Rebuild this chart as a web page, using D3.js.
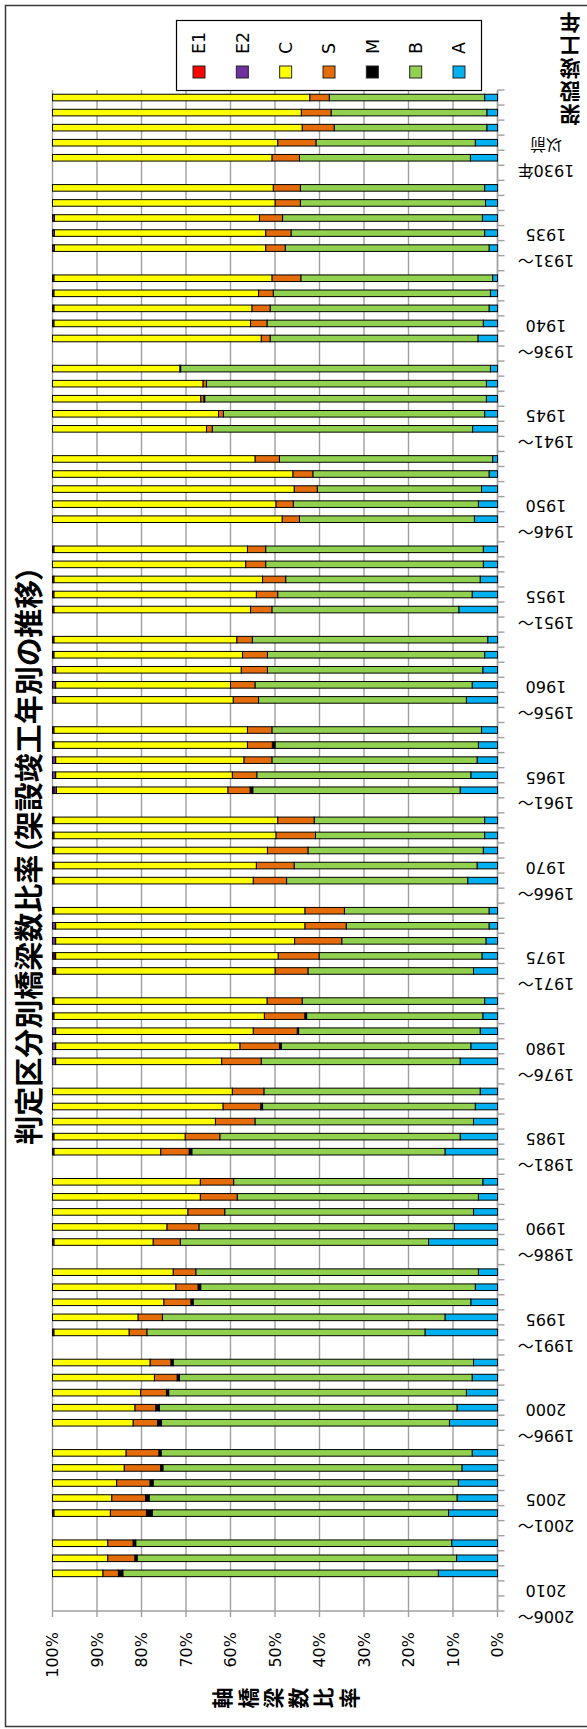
<!DOCTYPE html>
<html>
<head>
<meta charset="utf-8">
<script src="https://cdn.jsdelivr.net/npm/d3@7"></script>
<style>
  html, body { margin: 0; padding: 0; background: #fff; }
  svg { display: block; }
  text { font-family: "DejaVu Sans", "Noto Sans CJK JP", sans-serif; }
</style>
</head>
<body>
<div id="chart"></div>
<script>
// ---- data -------------------------------------------------------------
// construction-period groups (two-line labels)
const periodLabels = [
  ["1930年", "以前"], ["1931～", "1935"], ["1936～", "1940"], ["1941～", "1945"],
  ["1946～", "1950"], ["1951～", "1955"], ["1956～", "1960"], ["1961～", "1965"],
  ["1966～", "1970"], ["1971～", "1975"], ["1976～", "1980"], ["1981～", "1985"],
  ["1986～", "1990"], ["1991～", "1995"], ["1996～", "2000"], ["2001～", "2005"],
  ["2006～", "2010"]
];

// one bar per year, five per period
const years = d3.range(1926, 2011).map(String);

// share of bridges per judgement category (%), one entry per year
const seriesA = [
  2.9, 2.4, 2.4, 5.0, 6.1,   2.9, 2.7, 3.4, 2.9, 1.9,   1.1, 1.6, 1.9, 3.2, 4.4,
  1.6, 2.5, 2.5, 2.9, 5.6,   1.1, 1.9, 3.6, 4.3, 5.2,   3.2, 3.2, 3.9, 5.7, 8.7,
  2.2, 2.9, 3.3, 5.7, 7.0,   3.6, 4.3, 4.6, 6.0, 8.4,   2.9, 2.9, 3.2, 4.6, 6.7,
  1.9, 1.9, 2.6, 3.5, 5.4,   2.9, 3.3, 3.9, 6.0, 8.4,   3.9, 5.0, 5.4, 8.4, 11.8,
  3.3, 4.3, 5.4, 9.7, 15.5,  4.3, 5.0, 6.0, 11.8, 16.3, 5.4, 5.7, 7.0, 9.1, 10.8,
  5.7, 8.0, 8.8, 9.1, 11.0,  10.3, 9.2, 13.3, null, null
];
const seriesB = [
  34.9, 35.0, 34.3, 35.8, 38.4,  41.4, 41.6, 44.9, 43.5, 45.8,  43.1, 48.8, 49.2, 48.6, 46.7,
  69.6, 62.9, 63.3, 58.7, 58.5,  47.9, 39.6, 36.9, 41.6, 39.3,  48.9, 48.9, 43.7, 43.7, 42.0,
  52.9, 48.8, 48.4, 48.8, 46.7,  47.1, 45.7, 46.1, 48.1, 46.6,  38.3, 38.0, 39.4, 41.1, 40.7,
  32.5, 32.1, 32.4, 36.6, 37.2,  41.0, 39.6, 40.8, 42.6, 44.7,  48.6, 47.8, 49.1, 54.0, 56.9,
  56.0, 54.2, 55.9, 57.4, 55.8,  63.5, 61.7, 62.4, 63.5, 62.5,  67.5, 65.8, 66.9, 66.9, 64.7,
  69.9, 67.2, 68.6, 69.2, 66.6,  71.0, 71.8, 70.9, null, null
];
const seriesM = [
  0, 0, 0, 0, 0,   0, 0, 0, 0, 0,   0, 0, 0, 0, 0,
  0, 0, 0.2, 0, 0,   0, 0, 0, 0, 0,   0, 0, 0, 0, 0,
  0, 0, 0, 0, 0,   0, 0.6, 0, 0, 0.6,   0, 0, 0, 0, 0,
  0, 0, 0, 0, 0,   0, 0.4, 0.3, 0.4, 0,   0, 0.4, 0, 0, 0.6,
  0, 0, 0, 0, 0,   0, 0.6, 0.5, 0, 0,   0.5, 0.5, 0.5, 0.8, 0.9,
  0.5, 0.5, 0.7, 0.8, 1.3,   0.6, 0.5, 1.0, null, null
];
const seriesS = [
  4.4, 6.7, 7.2, 8.6, 6.2,   6.1, 5.7, 5.2, 5.7, 4.4,   6.5, 3.3, 4.1, 3.7, 2.0,
  0.2, 0.8, 0.7, 1.1, 1.3,   5.5, 4.5, 5.2, 3.9, 3.9,   4.1, 4.5, 5.2, 4.8, 4.8,
  3.5, 5.6, 5.9, 5.5, 5.7,   5.5, 5.6, 6.3, 5.5, 5.0,   8.2, 8.9, 9.1, 8.5, 7.5,
  8.9, 9.3, 10.6, 9.2, 7.4,   7.9, 9.1, 9.9, 8.9, 8.9,   7.1, 8.5, 8.9, 7.8, 6.4,
  7.5, 8.3, 8.3, 7.2, 6.1,   5.1, 5.0, 6.1, 5.5, 4.0,   4.7, 5.1, 5.8, 4.7, 5.5,
  7.4, 8.2, 7.5, 7.6, 8.1,   5.7, 6.1, 3.5, null, null
];
const seriesC = [
  57.8, 55.9, 56.1, 50.6, 49.3,  49.6, 50.0, 46.1, 47.5, 47.5,  49.0, 46.0, 44.5, 44.2, 46.9,
  28.6, 33.8, 33.3, 37.3, 34.6,  45.5, 54.0, 54.3, 50.2, 51.6,  43.5, 43.4, 46.9, 45.5, 44.2,
  41.1, 42.4, 41.7, 39.3, 39.9,  43.5, 43.5, 42.3, 39.7, 38.5,  50.3, 49.9, 48.0, 45.5, 44.8,
  56.4, 56.0, 53.7, 50.0, 49.3,  47.9, 47.3, 44.4, 41.4, 37.3,  40.4, 38.3, 36.6, 29.5, 24.0,
  33.2, 33.2, 30.4, 25.7, 22.3,  27.1, 27.7, 25.0, 19.2, 16.9,  21.9, 22.9, 19.8, 18.5, 18.1,
  16.5, 16.1, 14.4, 13.3, 12.7,  12.4, 12.4, 11.3, null, null
];
const seriesE2 = [
  0, 0, 0, 0, 0,   0, 0, 0.4, 0.4, 0.4,   0.3, 0.3, 0.3, 0.3, 0,
  0, 0, 0, 0, 0,   0, 0, 0, 0, 0,   0.3, 0, 0.3, 0, 0,
  0.3, 0.3, 0.7, 0.7, 0.7,   0.3, 0.3, 0.7, 0.7, 0.6,   0.3, 0.3, 0.3, 0, 0,
  0.3, 0.7, 0.7, 0.4, 0.4,   0.3, 0.3, 0.7, 0.7, 0.7,   0, 0, 0, 0.3, 0.3,
  0, 0, 0, 0, 0.3,   0, 0, 0, 0, 0.3,   0, 0, 0, 0, 0,
  0, 0, 0, 0, 0.3,   0, 0, 0, null, null
];
const seriesE1 = [
  0, 0, 0, 0, 0,   0, 0, 0, 0, 0,   0, 0, 0, 0, 0,
  0, 0, 0, 0, 0,   0, 0, 0, 0, 0,   0, 0, 0, 0.3, 0.3,
  0, 0, 0, 0, 0,   0, 0, 0, 0, 0.3,   0, 0, 0, 0.3, 0.3,
  0, 0, 0, 0.3, 0.3,   0, 0, 0, 0, 0,   0, 0, 0, 0, 0,
  0, 0, 0, 0, 0,   0, 0, 0, 0, 0,   0, 0, 0, 0, 0,
  0, 0, 0, 0, 0,   0, 0, 0, null, null
];

// stacking order from the 0% side, and legend order
const seriesKeys = ["A", "B", "M", "S", "C", "E2", "E1"];
const legendKeys = ["E1", "E2", "C", "S", "M", "B", "A"];
const pctTicks = [0, 10, 20, 30, 40, 50, 60, 70, 80, 90, 100];

const titleText = "判定区分別橋梁数比率（架設竣工年別の推移）";
const categoryAxisTitle = "架設竣工年";
const valueAxisTitle = "軸橋梁数比率";

// ---- styles -----------------------------------------------------------
const colors = {
  A: "#00B0F0", B: "#92D050", M: "#000000", S: "#E46C0A",
  C: "#FFFF00", E2: "#7030A0", E1: "#FF0000"
};

// ---- layout -----------------------------------------------------------
const W = 587, H = 1729;
const plot = { left: 52.5, right: 497.5, top: 90, bottom: 1611 };
const gridColor = "#a0a0a0";

const svg = d3.select("#chart").append("svg")
  .attr("width", W).attr("height", H);

// chart frame
svg.append("rect")
  .attr("x", 5.5).attr("y", 5.5)
  .attr("width", 620).attr("height", 1721)
  .attr("fill", "#fff").attr("stroke", "#3a3a3a").attr("stroke-width", 1.5);

// category slots: five years per period plus an empty slot between periods
const slots = [];
periodLabels.forEach((p, g) => {
  years.slice(g * 5, g * 5 + 5).forEach(yr => slots.push(yr));
  if (g < periodLabels.length - 1) slots.push("gap" + g);
});

const y = d3.scaleBand().domain(slots).range([plot.top, plot.bottom]);
const x = d3.scaleLinear().domain([0, 1]).range([plot.right, plot.left]);

const bw = y.bandwidth();
const barH = 6.6;

// vertical gridlines
svg.append("g").selectAll("line")
  .data(pctTicks)
  .join("line")
  .attr("x1", d => x(d / 100)).attr("x2", d => x(d / 100))
  .attr("y1", plot.top).attr("y2", plot.bottom + 6)
  .attr("stroke", gridColor).attr("stroke-width", 1.4);

// value axis baseline
svg.append("line")
  .attr("x1", plot.left).attr("x2", plot.right)
  .attr("y1", plot.bottom).attr("y2", plot.bottom)
  .attr("stroke", gridColor).attr("stroke-width", 1.4);

// category axis line and ticks on slot boundaries
svg.append("line")
  .attr("x1", plot.right).attr("x2", plot.right)
  .attr("y1", plot.top).attr("y2", plot.bottom)
  .attr("stroke", gridColor).attr("stroke-width", 1.4);
const boundaries = slots.map(s => y(s)).concat([y.range()[1]]);
svg.append("g").selectAll("line")
  .data(boundaries)
  .join("line")
  .attr("x1", plot.right).attr("x2", plot.right + 7)
  .attr("y1", d => d).attr("y2", d => d)
  .attr("stroke", gridColor).attr("stroke-width", 1.4);

// stacked 100% bars
const rows = years.map((yr, i) => ({
  year: yr,
  A: seriesA[i], B: seriesB[i], M: seriesM[i], S: seriesS[i],
  C: seriesC[i], E2: seriesE2[i], E1: seriesE1[i]
})).filter(r => r.A != null);

const stacked = d3.stack().keys(seriesKeys).offset(d3.stackOffsetExpand)(rows);

svg.append("g").selectAll("g")
  .data(stacked)
  .join("g")
  .attr("fill", s => colors[s.key])
  .selectAll("rect")
  .data(s => s.filter(d => d[1] - d[0] > 0))
  .join("rect")
  .attr("x", d => x(d[1]))
  .attr("width", d => x(d[0]) - x(d[1]))
  .attr("y", d => y(d.data.year) + (bw - barH) / 2)
  .attr("height", barH)
  .attr("stroke", "#000").attr("stroke-width", 1);

// percentage tick labels
svg.append("g").selectAll("text")
  .data(pctTicks)
  .join("text")
  .attr("transform", d => `translate(${x(d / 100)},${plot.bottom + 21}) rotate(-90)`)
  .attr("text-anchor", "end")
  .attr("dy", "0.36em")
  .attr("font-size", 16)
  .attr("fill", "#000")
  .text(d => d + "%");

// period labels (upside down, two lines)
const periodText = svg.append("g").selectAll("text")
  .data(periodLabels)
  .join("text")
  .attr("transform", (d, g) => {
    const cy = y(years[g * 5 + 4]) + bw / 2;
    return `translate(546,${cy}) rotate(180)`;
  })
  .attr("text-anchor", "middle")
  .attr("font-size", 16)
  .attr("fill", "#000");
periodText.append("tspan").attr("x", 0).attr("y", -13).attr("dy", "0.36em").text(d => d[0]);
periodText.append("tspan").attr("x", 0).attr("y", 13).attr("dy", "0.36em").text(d => d[1]);

// legend
const legend = svg.append("g");
legend.append("rect")
  .attr("x", 176.5).attr("y", 20.5).attr("width", 305).attr("height", 70)
  .attr("fill", "#fff").attr("stroke", "#000").attr("stroke-width", 1.2);
const legendX = d3.scalePoint().domain(legendKeys).range([199, 459]);
legend.selectAll("rect.sw")
  .data(legendKeys)
  .join("rect")
  .attr("class", "sw")
  .attr("x", k => legendX(k) - 6).attr("y", 66)
  .attr("width", 12).attr("height", 12)
  .attr("fill", k => colors[k]).attr("stroke", "#222").attr("stroke-width", 1);
legend.selectAll("text")
  .data(legendKeys)
  .join("text")
  .attr("transform", k => `translate(${legendX(k)},54) rotate(-90)`)
  .attr("text-anchor", "start")
  .attr("dy", "0.36em")
  .attr("font-size", 17.5)
  .attr("fill", "#000")
  .text(k => k);

// chart title
svg.append("text")
  .attr("transform", "translate(30,855) rotate(-90)")
  .attr("text-anchor", "middle")
  .attr("dy", "0.36em")
  .attr("font-family", "'Noto Sans CJK JP', sans-serif")
  .attr("font-weight", "bold")
  .attr("font-size", 29)
  .style("font-feature-settings", "\"palt\"")
  .attr("fill", "#000")
  .text(titleText);

// category axis title: stacked characters, upside down
svg.append("g").selectAll("text")
  .data(categoryAxisTitle.split(""))
  .join("text")
  .attr("transform", (c, i) => `translate(570,${115 - i * 23}) rotate(180)`)
  .attr("text-anchor", "middle")
  .attr("dy", "0.36em")
  .attr("font-family", "'Noto Sans CJK JP', sans-serif")
  .attr("font-weight", "bold")
  .attr("font-size", 21)
  .attr("fill", "#000")
  .text(c => c);

// value axis title: stacked characters turned a quarter left
svg.append("g").selectAll("text")
  .data(valueAxisTitle.split(""))
  .join("text")
  .attr("transform", (c, i) => `translate(${222.7 + i * 25.3},1698) rotate(-90)`)
  .attr("text-anchor", "middle")
  .attr("dy", "0.36em")
  .attr("font-family", "'Noto Sans CJK JP', sans-serif")
  .attr("font-weight", "bold")
  .attr("font-size", 21)
  .attr("fill", "#000")
  .text(c => c);
</script>
</body>
</html>
